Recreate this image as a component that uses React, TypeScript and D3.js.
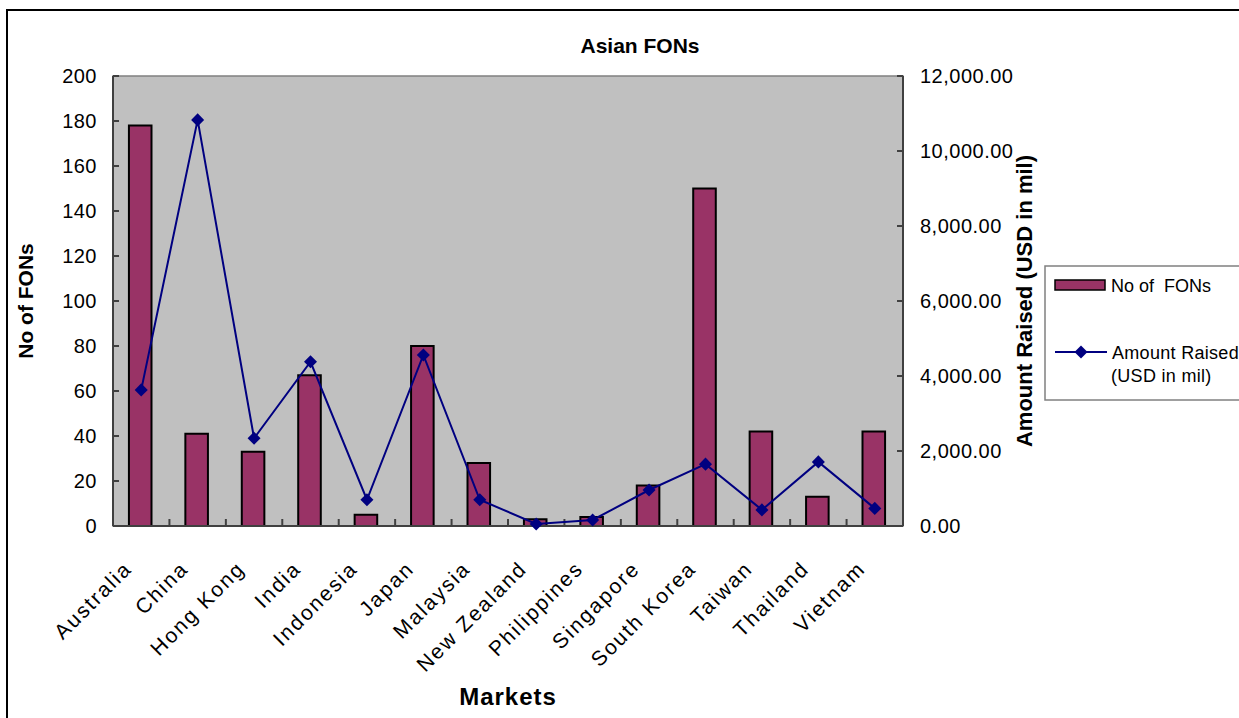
import { useEffect } from "react";
import { scaleBand, scaleLinear, line, format, symbol, symbolSquare } from "d3";

const markets = [
  "Australia",
  "China",
  "Hong Kong",
  "India",
  "Indonesia",
  "Japan",
  "Malaysia",
  "New Zealand",
  "Philippines",
  "Singapore",
  "South Korea",
  "Taiwan",
  "Thailand",
  "Vietnam",
];
const fonCounts = [178, 41, 33, 67, 5, 80, 28, 3, 4, 18, 150, 42, 13, 42];
const amountRaised = [3630, 10830, 2340, 4380, 700, 4560, 700, 55, 160, 960, 1650, 430, 1710, 470];
const leftTicks = [0, 20, 40, 60, 80, 100, 120, 140, 160, 180, 200];
const rightTicks = [0, 2000, 4000, 6000, 8000, 10000, 12000];

const WIDTH = 1239;
const HEIGHT = 718;
const PLOT = { left: 113, right: 903, top: 76, bottom: 526 };
const FONT = "'Liberation Sans', Arial, sans-serif";
const BAR_FILL = "#993366";
const LINE_COLOR = "#000080";
const AXIS_COLOR = "#404040";

export default function App() {
  useEffect(() => {
    document.body.style.margin = "0";
  }, []);

  const x = scaleBand<string>().domain(markets).range([PLOT.left, PLOT.right]);
  const yLeft = scaleLinear().domain([0, 200]).range([PLOT.bottom, PLOT.top]);
  const yRight = scaleLinear().domain([0, 12000]).range([PLOT.bottom, PLOT.top]);
  const barWidth = x.bandwidth() * 0.4;
  const center = (name: string) => (x(name) ?? 0) + x.bandwidth() / 2;
  const fmtRight = format(",.2f");

  const amountPath = line<number>()
    .x((_d, i) => center(markets[i]))
    .y((d) => yRight(d))(amountRaised);
  // square turned 45 degrees, like the Excel diamond marker
  const diamond = symbol().type(symbolSquare).size(85)() ?? "";

  return (
    <svg width={WIDTH} height={HEIGHT} style={{ display: "block" }} fontFamily={FONT}>
      <rect x={0} y={0} width={WIDTH} height={HEIGHT} fill="#ffffff" />
      <rect x={7} y={10} width={WIDTH + 20} height={HEIGHT + 20} fill="none" stroke="#000" strokeWidth={2} />

      <text x={640} y={53} textAnchor="middle" fontSize={21} fontWeight="bold">
        Asian FONs
      </text>

      <rect
        x={PLOT.left}
        y={PLOT.top}
        width={PLOT.right - PLOT.left}
        height={PLOT.bottom - PLOT.top}
        fill="#c0c0c0"
        stroke="#808080"
        strokeWidth={1.5}
      />

      {markets.map((m, i) => (
        <rect
          key={m}
          x={center(m) - barWidth / 2 - 1}
          y={yLeft(fonCounts[i])}
          width={barWidth}
          height={yLeft(0) - yLeft(fonCounts[i])}
          fill={BAR_FILL}
          stroke="#000"
          strokeWidth={2}
        />
      ))}

      {/* axes */}
      <line x1={PLOT.left} y1={PLOT.top} x2={PLOT.left} y2={PLOT.bottom} stroke={AXIS_COLOR} strokeWidth={2} />
      <line x1={PLOT.right} y1={PLOT.top} x2={PLOT.right} y2={PLOT.bottom} stroke={AXIS_COLOR} strokeWidth={2} />
      <line x1={PLOT.left} y1={PLOT.bottom} x2={PLOT.right} y2={PLOT.bottom} stroke={AXIS_COLOR} strokeWidth={2} />

      {leftTicks.map((t) => (
        <g key={`l${t}`}>
          <line x1={PLOT.left} x2={PLOT.left + 6} y1={yLeft(t)} y2={yLeft(t)} stroke={AXIS_COLOR} strokeWidth={2} />
          <text x={PLOT.left - 16} y={yLeft(t)} dy="0.36em" textAnchor="end" fontSize={20} letterSpacing={0.5}>
            {t}
          </text>
        </g>
      ))}

      {rightTicks.map((t) => (
        <g key={`r${t}`}>
          <line x1={PLOT.right - 6} x2={PLOT.right} y1={yRight(t)} y2={yRight(t)} stroke={AXIS_COLOR} strokeWidth={2} />
          <text x={PLOT.right + 17} y={yRight(t)} dy="0.36em" textAnchor="start" fontSize={20} letterSpacing={0.5}>
            {fmtRight(t)}
          </text>
        </g>
      ))}

      {markets.slice(1).map((m) => (
        <line
          key={`t${m}`}
          x1={x(m) ?? 0}
          x2={x(m) ?? 0}
          y1={PLOT.bottom}
          y2={PLOT.bottom - 7}
          stroke={AXIS_COLOR}
          strokeWidth={2}
        />
      ))}

      {markets.map((m) => (
        <text
          key={`x${m}`}
          transform={`translate(${center(m) - 8},${PLOT.bottom + 44}) rotate(-45)`}
          textAnchor="end"
          fontSize={21}
          letterSpacing={2}
        >
          {m}
        </text>
      ))}

      {amountPath ? <path d={amountPath} fill="none" stroke={LINE_COLOR} strokeWidth={2} /> : null}
      {amountRaised.map((v, i) => (
        <path
          key={`d${i}`}
          d={diamond}
          transform={`translate(${center(markets[i])},${yRight(v)}) rotate(45)`}
          fill={LINE_COLOR}
        />
      ))}

      <text
        transform={`translate(33,${(PLOT.top + PLOT.bottom) / 2}) rotate(-90)`}
        textAnchor="middle"
        fontSize={21}
        fontWeight="bold"
      >
        No of FONs
      </text>
      <text
        transform={`translate(1032,${(PLOT.top + PLOT.bottom) / 2}) rotate(-90)`}
        textAnchor="middle"
        fontSize={22}
        fontWeight="bold"
      >
        Amount Raised (USD in mil)
      </text>
      <text
        x={(PLOT.left + PLOT.right) / 2}
        y={705}
        textAnchor="middle"
        fontSize={24}
        fontWeight="bold"
        letterSpacing={1}
      >
        Markets
      </text>

      {/* legend */}
      <rect x={1045} y={266} width={220} height={134} fill="#fff" stroke="#808080" strokeWidth={1.5} />
      <rect x={1055} y={280} width={50} height={10} fill={BAR_FILL} stroke="#000" strokeWidth={1.5} />
      <text x={1111} y={292} fontSize={18} style={{ whiteSpace: "pre" }}>
        {"No of  FONs"}
      </text>
      <line x1={1055} x2={1107} y1={352} y2={352} stroke={LINE_COLOR} strokeWidth={2} />
      <path d={diamond} transform="translate(1081,352) rotate(45)" fill={LINE_COLOR} />
      <text x={1112} y={359} fontSize={18} letterSpacing={0.3}>
        Amount Raised
      </text>
      <text x={1111} y={382} fontSize={18} letterSpacing={0.3}>
        (USD in mil)
      </text>
    </svg>
  );
}
